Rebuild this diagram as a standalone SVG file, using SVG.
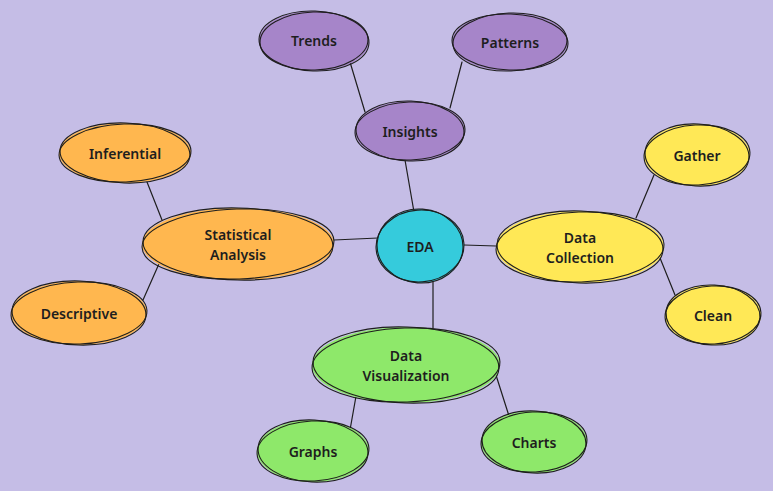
<svg xmlns="http://www.w3.org/2000/svg" width="773" height="491" viewBox="0 0 773 491">
<style>
.t{font-family:"Noto Sans","Open Sans",sans-serif;font-size:14px;font-weight:600;fill:#1e1e1e;text-anchor:middle;dominant-baseline:central}
.o{fill:none;stroke:#1e1e1e;stroke-width:1.1}
.c{fill:none;stroke:#1e1e1e;stroke-width:1.2;stroke-linecap:round}
.pu{fill:#a685c9}.or{fill:#ffb74f}.ye{fill:#ffe856}.gr{fill:#8ee86a}.cy{fill:#35cbdc}
</style>
<rect width="773" height="491" fill="#c5bde6"/>
<g id="connectors">
<path class="c" d="M350 62 L365 112"/>
<path class="c" d="M462 62 L450 108"/>
<path class="c" d="M405 160 L414 212"/>
<path class="c" d="M334 240 L378 238"/>
<path class="c" d="M147 182 L162 220"/>
<path class="c" d="M143 300 L162 257"/>
<path class="c" d="M464 245 L496 246"/>
<path class="c" d="M636 218 L654 175"/>
<path class="c" d="M658 253 L675 295"/>
<path class="c" d="M433 282 L433 328"/>
<path class="c" d="M358 385 L350 430"/>
<path class="c" d="M495 372 L509 416"/>
</g>
<g id="trends" transform="translate(314,41)">
<ellipse class="pu" rx="55" ry="30"/>
<ellipse class="o" rx="54" ry="29" transform="rotate(-2)"/>
<ellipse class="o" rx="55" ry="30" transform="rotate(2)"/>
<text class="t" y="-1">Trends</text>
</g>
<g id="patterns" transform="translate(510,42)">
<ellipse class="pu" rx="58" ry="29"/>
<ellipse class="o" rx="57" ry="29" transform="rotate(-2)"/>
<ellipse class="o" rx="58" ry="28" transform="rotate(2)"/>
<text class="t">Patterns</text>
</g>
<g id="insights" transform="translate(410,131)">
<ellipse class="pu" rx="55" ry="30"/>
<ellipse class="o" rx="55" ry="29" transform="rotate(-2)"/>
<ellipse class="o" rx="54" ry="30" transform="rotate(2)"/>
<text class="t">Insights</text>
</g>
<g id="inferential" transform="translate(125,153)">
<ellipse class="or" rx="66" ry="30"/>
<ellipse class="o" rx="66" ry="29" transform="rotate(-2)"/>
<ellipse class="o" rx="65" ry="30" transform="rotate(2)"/>
<text class="t">Inferential</text>
</g>
<g id="statistical" transform="translate(238,244)">
<ellipse class="or" rx="96" ry="36"/>
<ellipse class="o" rx="96" ry="35" transform="rotate(-2)"/>
<ellipse class="o" rx="95" ry="36" transform="rotate(1.5)"/>
<text class="t" y="-10">Statistical</text>
<text class="t" y="10">Analysis</text>
</g>
<g id="eda" transform="translate(420,246)">
<ellipse class="cy" rx="44" ry="37"/>
<ellipse class="o" rx="44" ry="36" transform="rotate(-4)"/>
<ellipse class="o" rx="43" ry="37" transform="rotate(4)"/>
<text class="t">EDA</text>
</g>
<g id="collection" transform="translate(580,247)">
<ellipse class="ye" rx="84" ry="36"/>
<ellipse class="o" rx="84" ry="35" transform="rotate(-2)"/>
<ellipse class="o" rx="83" ry="36" transform="rotate(2)"/>
<text class="t" y="-10">Data</text>
<text class="t" y="10">Collection</text>
</g>
<g id="gather" transform="translate(697,155)">
<ellipse class="ye" rx="53" ry="31"/>
<ellipse class="o" rx="53" ry="30" transform="rotate(-3)"/>
<ellipse class="o" rx="52" ry="31" transform="rotate(3)"/>
<text class="t">Gather</text>
</g>
<g id="clean" transform="translate(713,315)">
<ellipse class="ye" rx="48" ry="30"/>
<ellipse class="o" rx="48" ry="29" transform="rotate(-3)"/>
<ellipse class="o" rx="47" ry="30" transform="rotate(3)"/>
<text class="t">Clean</text>
</g>
<g id="descriptive" transform="translate(79,313)">
<ellipse class="or" rx="68" ry="32"/>
<ellipse class="o" rx="68" ry="31" transform="rotate(-2)"/>
<ellipse class="o" rx="67" ry="32" transform="rotate(2)"/>
<text class="t">Descriptive</text>
</g>
<g id="visualization" transform="translate(406,365)">
<ellipse class="gr" rx="94" ry="38"/>
<ellipse class="o" rx="94" ry="37" transform="rotate(-2)"/>
<ellipse class="o" rx="93" ry="38" transform="rotate(2)"/>
<text class="t" y="-10">Data</text>
<text class="t" y="10">Visualization</text>
</g>
<g id="graphs" transform="translate(313,451)">
<ellipse class="gr" rx="56" ry="31"/>
<ellipse class="o" rx="56" ry="30" transform="rotate(-3)"/>
<ellipse class="o" rx="55" ry="31" transform="rotate(3)"/>
<text class="t">Graphs</text>
</g>
<g id="charts" transform="translate(534,442)">
<ellipse class="gr" rx="53" ry="31"/>
<ellipse class="o" rx="53" ry="30" transform="rotate(-3)"/>
<ellipse class="o" rx="52" ry="31" transform="rotate(3)"/>
<text class="t">Charts</text>
</g>
</svg>
